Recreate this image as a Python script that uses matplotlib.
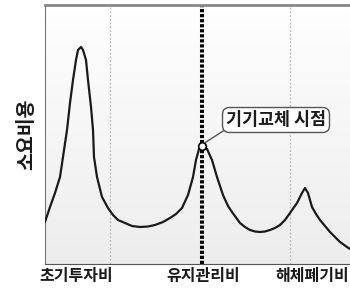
import matplotlib
matplotlib.use("Agg")
import matplotlib.pyplot as plt
import numpy as np

plt.rcParams['font.family'] = ['Noto Sans CJK KR', 'DejaVu Sans']

# life-cycle cost curve (x = time position, y = cost level)
curve_x = [45, 50, 55, 60, 63, 67, 70, 73, 76, 78, 81, 83, 86, 88, 91, 93, 94, 97,
           102, 108, 113, 118, 125, 132, 140, 148, 155, 163, 170, 176, 182, 188, 193,
           196, 199, 203, 207, 212, 217, 223, 228, 232, 240, 245, 250, 255, 260, 265,
           270, 275, 280, 285, 290, 297, 302, 305, 308, 312, 316, 320, 325, 330, 335,
           340, 347, 350]
curve_y = [42, 57, 71, 87, 107, 134, 161, 184, 204, 214, 217, 214, 204, 184, 157, 134,
           107, 87, 67, 56, 49, 44, 41, 38, 37, 37.5, 39, 42, 46, 50, 56, 69, 87,
           104, 115, 118, 115, 104, 87, 69, 58, 52, 41, 37, 34, 32.5, 32, 32.5,
           34, 36, 39, 44, 51, 61, 71, 76, 71, 57, 50, 44, 38, 32, 27, 22, 17, 15]
tick_pos = [76, 203, 312]
tick_labels = ['초기투자비', '유지관리비', '해체폐기비']
grid_pos = [110, 290]
replace_x = 202
replace_y = 118
note = '기기교체 시점'

fig = plt.figure(figsize=(3.5, 2.92), dpi=100)
ax = fig.add_axes([45/350, 28/292, 305/350, 259/292])
ax.set_xlim(45, 350)
ax.set_ylim(0, 259)

# gradient background
grad = np.linspace(0, 1, 256).reshape(-1, 1)
ax.imshow(grad, extent=[45, 350, 0, 259], aspect='auto', cmap='Greys',
          vmin=-0.05, vmax=7.0, origin='upper', zorder=0)

for g in grid_pos:
    ax.axvline(g, color='#b8b8b8', lw=0.9, ls=(0, (1.5, 1.5)), zorder=1)

ax.axvline(replace_x, color='black', lw=2.9, ls=(0, (0.8, 0.45)), zorder=2)
ax.plot(curve_x, curve_y, color='#1a1a1a', lw=1.6, zorder=3,
        solid_joinstyle='round', solid_capstyle='round')
ax.plot([replace_x], [replace_y], 'o', ms=5.5, mfc='white', mec='black', mew=1.2, zorder=4)

ax.annotate(note, xy=(replace_x + 1, replace_y + 2), xytext=(276, 144),
            ha='center', va='center', fontsize=12.5, color='#1a1a1a', fontweight='bold',
            bbox=dict(boxstyle='round,pad=0.2,rounding_size=0.4', fc='white',
                      ec='#555555', lw=1.0),
            arrowprops=dict(arrowstyle='-', color='#555555', lw=1.0,
                            shrinkA=0, shrinkB=2, relpos=(0.03, 0.1)),
            zorder=5)

ax.set_xticks(tick_pos)
ax.set_xticklabels(tick_labels, fontsize=11.5, fontweight='bold', color='#1a1a1a')
ax.tick_params(axis='x', length=0, pad=3)
ax.set_yticks([])
ax.set_ylabel('소요비용', fontsize=14, labelpad=6, fontweight='bold', color='#1a1a1a')

ax.spines['right'].set_visible(False)
ax.spines['top'].set_color('#888888')
ax.spines['top'].set_linewidth(2)
ax.spines['left'].set_color('#777777')
ax.spines['bottom'].set_color('#555555')

fig.savefig('out.png', dpi=100)
